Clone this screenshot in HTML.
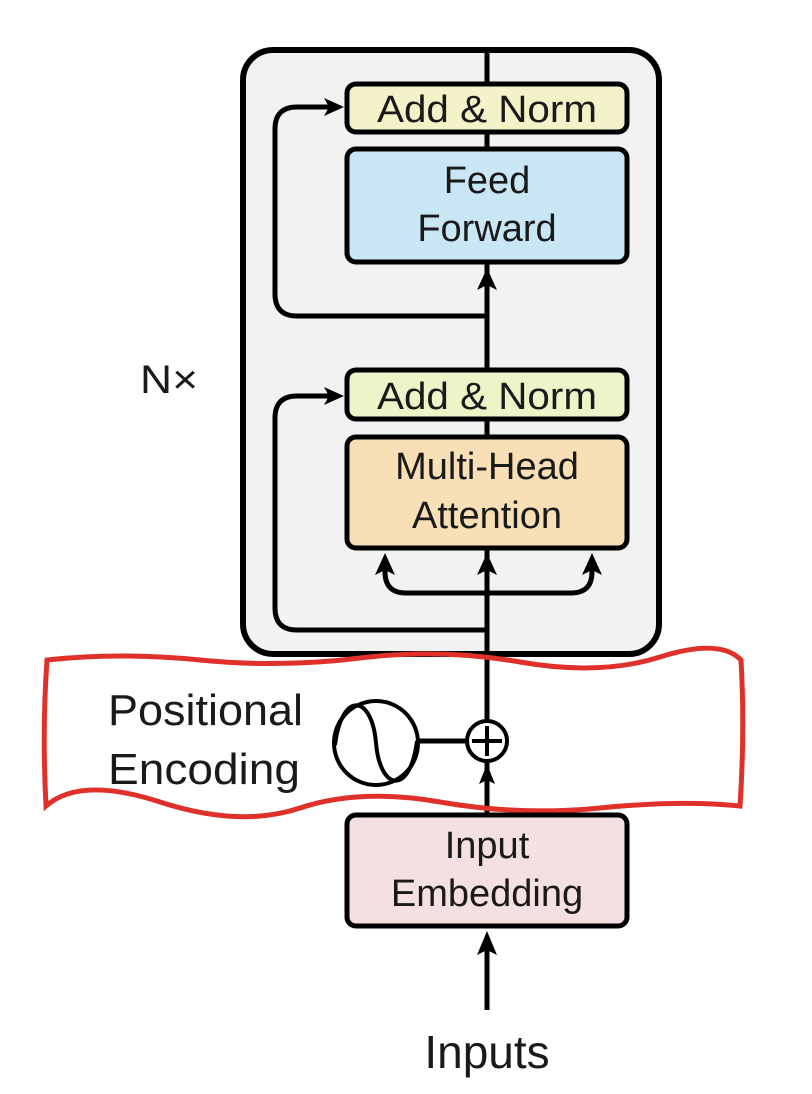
<!DOCTYPE html>
<html><head><meta charset="utf-8"><style>
html,body{margin:0;padding:0;background:#fff;}
svg{display:block;}
text{font-family:"Liberation Sans",sans-serif;fill:#1a1a1a;}
</style></head><body>
<svg width="812" height="1094" viewBox="0 0 812 1094" xmlns="http://www.w3.org/2000/svg">
<!-- outer box -->
<rect x="243" y="50" width="416" height="604" rx="30" fill="#f2f2f2" stroke="#000" stroke-width="6"/>
<line x1="487" y1="50" x2="487" y2="814" stroke="#000" stroke-width="5"/>
<!-- residual 1 -->
<path d="M487 316 H297 Q275 316 275 294 V129 Q275 107 297 107 H336" fill="none" stroke="#000" stroke-width="5"/>
<path d="M324 98 L344 107 L324 116 L329 107 Z" fill="#000"/>
<!-- residual 2 -->
<path d="M487 630 H297 Q275 630 275 608 V418 Q275 396 297 396 H336" fill="none" stroke="#000" stroke-width="5"/>
<path d="M324 387 L344 396 L324 405 L329 396 Z" fill="#000"/>
<path d="M477 290 L487 268 L497 290 L487 285 Z" fill="#000"/>
<!-- branching arrows -->
<path d="M385 560 V572 Q385 593 406 593 H571 Q592 593 592 572 V560" fill="none" stroke="#000" stroke-width="5"/>
<path d="M375 575 L385 553 L395 575 L385 570 Z" fill="#000"/>
<path d="M477 575 L487 553 L497 575 L487 570 Z" fill="#000"/>
<path d="M582 575 L592 553 L602 575 L592 570 Z" fill="#000"/>
<!-- boxes -->
<rect x="347" y="84" width="280" height="48" rx="9" fill="#f4f2c8" stroke="#000" stroke-width="5"/>
<text x="487" y="122" font-size="38" text-anchor="middle" textLength="220" lengthAdjust="spacingAndGlyphs">Add &amp; Norm</text>
<rect x="347" y="149" width="280" height="113" rx="9" fill="#c9e6f5" stroke="#000" stroke-width="5"/>
<text x="487" y="193" font-size="38" text-anchor="middle">Feed</text>
<text x="487" y="241" font-size="38" text-anchor="middle">Forward</text>
<rect x="347" y="370" width="280" height="49" rx="9" fill="#eef4c8" stroke="#000" stroke-width="5"/>
<text x="487" y="409" font-size="38" text-anchor="middle" textLength="220" lengthAdjust="spacingAndGlyphs">Add &amp; Norm</text>
<rect x="347" y="437" width="280" height="111" rx="9" fill="#f9dfb5" stroke="#000" stroke-width="5"/>
<text x="487" y="479" font-size="38" text-anchor="middle">Multi-Head</text>
<text x="487" y="528" font-size="38" text-anchor="middle">Attention</text>
<text x="140" y="393" font-size="40" textLength="58" lengthAdjust="spacingAndGlyphs">N×</text>
<!-- positional encoding -->
<circle cx="376" cy="743" r="42" fill="#fff" stroke="#000" stroke-width="4"/>
<path d="M335 745 C342 690 372 695 376 743 C380 791 410 796 417 741" fill="none" stroke="#000" stroke-width="4"/>
<line x1="418" y1="741" x2="467" y2="741" stroke="#000" stroke-width="5"/>
<circle cx="487" cy="741" r="20" fill="#fff" stroke="#000" stroke-width="4"/>
<line x1="472" y1="741" x2="502" y2="741" stroke="#000" stroke-width="4"/>
<line x1="487" y1="726" x2="487" y2="756" stroke="#000" stroke-width="4"/>
<path d="M479 784 L487 764 L495 784 L487 780 Z" fill="#000"/>
<text x="108" y="725" font-size="44" textLength="195" lengthAdjust="spacingAndGlyphs">Positional</text>
<text x="108" y="784" font-size="44" textLength="192" lengthAdjust="spacingAndGlyphs">Encoding</text>
<!-- red wavy rect -->
<path d="M47 660 Q120 652 200 660 T360 658 T520 662 T660 657 T741 660 Q745 730 740 806 Q680 800 600 808 T440 802 T300 808 T160 802 T46 806 Q42 730 47 660 Z" fill="none" stroke="#e0302a" stroke-width="5"/>
<!-- input embedding -->
<rect x="347" y="815" width="280" height="111" rx="9" fill="#f5e0e1" stroke="#000" stroke-width="5"/>
<text x="487" y="858" font-size="38" text-anchor="middle">Input</text>
<text x="487" y="906" font-size="38" text-anchor="middle">Embedding</text>
<line x1="487" y1="1010" x2="487" y2="945" stroke="#000" stroke-width="5"/>
<path d="M477 955 L487 931 L497 955 L487 950 Z" fill="#000"/>
<text x="487" y="1068" font-size="46" text-anchor="middle">Inputs</text>
</svg>
</body></html>
